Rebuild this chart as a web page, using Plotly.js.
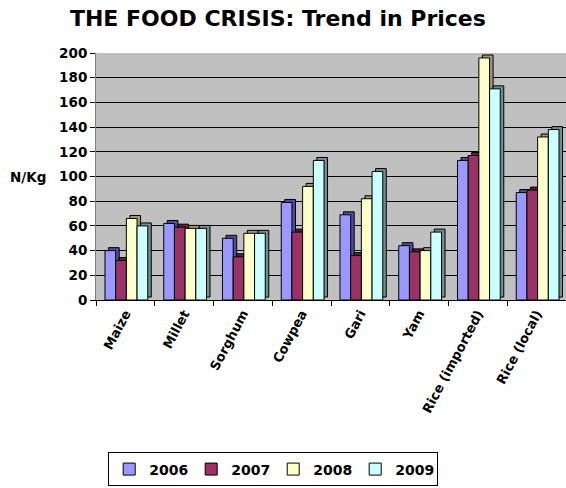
<!DOCTYPE html>
<html>
<head>
<meta charset="utf-8">
<script src="https://cdn.plot.ly/plotly-3.0.1.min.js"></script>
<style>
  html, body { margin: 0; padding: 0; background: #ffffff; }
  #chart { width: 566px; height: 488px; }
</style>
</head>
<body>
<div id="chart"></div>
<script>
// ---- data ----
const categories = ['Maize', 'Millet', 'Sorghum', 'Cowpea', 'Gari', 'Yam', 'Rice (imported)', 'Rice (local)'];
const years = ['2006', '2007', '2008', '2009'];
const v2006 = [40, 62, 50, 79, 69, 44, 113, 87];
const v2007 = [32, 59, 35, 55, 36, 39, 117, 89];
const v2008 = [66, 58, 54, 92, 82, 40, 196, 132];
const v2009 = [60, 58, 54, 113, 104, 55, 171, 138];
const yTicks = [0, 20, 40, 60, 80, 100, 120, 140, 160, 180, 200];

// ---- styling ----
const seriesValues = [v2006, v2007, v2008, v2009];
const faceColors = ['#9999FF', '#993366', '#FFFFCC', '#CCFFFF'];
const sideColors = ['#4d4d99', '#5c1f3d', '#9a9a7a', '#6f8f8f'];
const FONT = 'DejaVu Sans, Arial, sans-serif';
const slot = 0.182;          // width of one bar, in category units
const groupStart = -0.347;   // left edge of first bar relative to category centre
const depthX = 0.06;         // 3D side offset (category units)
const depthY = 2.4;          // 3D top offset (value units)

const traces = [];
seriesValues.forEach((vals, i) => {
  // darker "depth" face behind the bar
  traces.push({
    type: 'bar', x: categories, y: vals, base: depthY,
    offset: groupStart + i * slot + depthX, width: slot,
    marker: { color: sideColors[i], line: { color: '#000000', width: 1 } },
    showlegend: false, hoverinfo: 'skip'
  });
  // front face
  traces.push({
    type: 'bar', name: years[i], x: categories, y: vals,
    offset: groupStart + i * slot, width: slot,
    marker: { color: faceColors[i], line: { color: '#000000', width: 1 } }
  });
});

const layout = {
  width: 566, height: 488,
  margin: { l: 96, r: 0, t: 53, b: 188 },
  paper_bgcolor: '#ffffff',
  plot_bgcolor: '#C0C0C0',
  barmode: 'overlay',
  font: { family: FONT, color: '#000000' },
  title: {
    text: '<b>THE FOOD CRISIS: Trend in Prices</b>',
    font: { family: FONT, size: 22, color: '#000000' },
    x: 0.491, xanchor: 'center', xref: 'container',
    y: 0.963, yanchor: 'middle', yref: 'container'
  },
  xaxis: {
    type: 'category',
    categoryorder: 'array', categoryarray: categories,
    range: [-0.5, categories.length - 0.5],
    tickson: 'boundaries', ticks: 'outside', ticklen: 5, tickcolor: '#000000',
    tickangle: -62,
    tickfont: { family: FONT, size: 13, color: '#000000', weight: 'bold' },
    showgrid: false, zeroline: false,
    showline: true, linecolor: '#000000', linewidth: 1,
    fixedrange: true
  },
  yaxis: {
    range: [0, 200],
    tickvals: yTicks, ticktext: yTicks.map(String),
    ticks: 'outside', ticklen: 5, tickcolor: '#000000',
    tickfont: { family: FONT, size: 13.5, color: '#000000', weight: 'bold' },
    showgrid: true, gridcolor: '#000000', gridwidth: 1,
    zeroline: false,
    showline: true, linecolor: '#808080', linewidth: 1,
    fixedrange: true
  },
  annotations: [{
    text: '<b>N/Kg</b>', xref: 'paper', yref: 'y', x: 0, y: 100,
    xanchor: 'right', yanchor: 'middle', xshift: -48, showarrow: false,
    font: { family: FONT, size: 13.5, color: '#000000' }
  }],
  showlegend: true,
  legend: {
    orientation: 'h', traceorder: 'normal',
    x: 0.377, xanchor: 'center', y: -0.755, yanchor: 'bottom',
    bgcolor: '#ffffff', bordercolor: '#000000', borderwidth: 1,
    font: { family: FONT, size: 14, color: '#000000', weight: 'bold' },
    itemwidth: 30, entrywidth: 37, entrywidthmode: 'pixels',
    tracegroupgap: 0
  }
};

Plotly.newPlot('chart', traces, layout, { displayModeBar: false, staticPlot: true });
</script>
</body>
</html>
